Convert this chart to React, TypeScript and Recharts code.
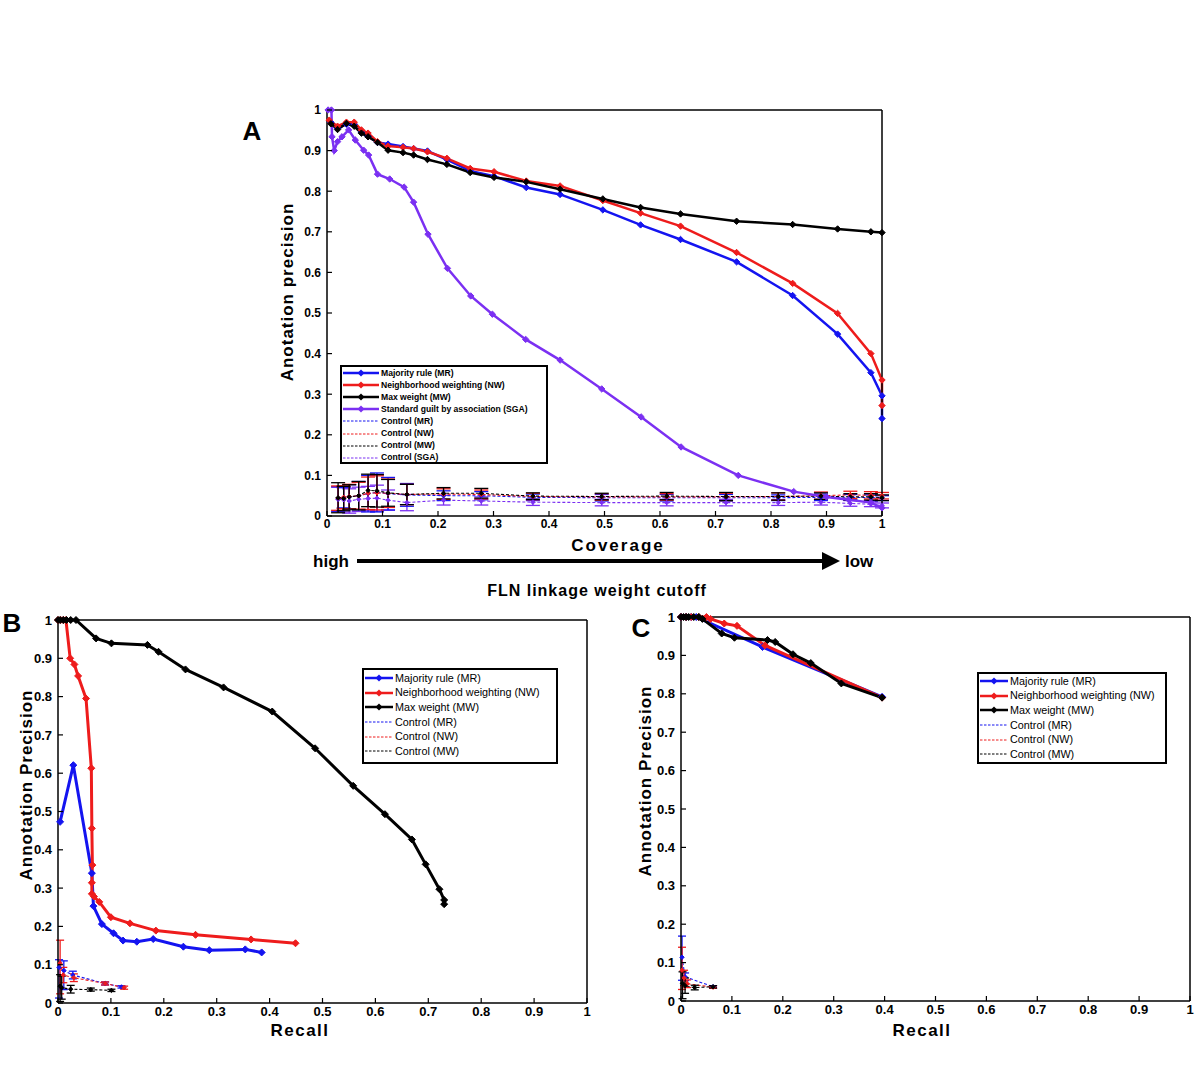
import React from 'react';
import { LineChart, Line, XAxis, YAxis, ErrorBar } from 'recharts';

// ---- panel A: precision vs coverage ----
const aMR: [number, number][] = [
  [0.007, 0.97], [0.019, 0.955], [0.035, 0.965], [0.049, 0.965], [0.062, 0.945], [0.074, 0.935],
  [0.091, 0.92], [0.11, 0.916], [0.137, 0.91], [0.156, 0.905], [0.181, 0.899], [0.216, 0.878],
  [0.258, 0.85], [0.301, 0.837], [0.359, 0.809], [0.42, 0.792], [0.497, 0.754], [0.565, 0.717],
  [0.637, 0.681], [0.738, 0.626], [0.839, 0.543], [0.92, 0.448], [0.98, 0.353], [1.0, 0.296], [1.0, 0.24],
];
const aNW: [number, number][] = [
  [0.004, 0.975], [0.019, 0.96], [0.035, 0.97], [0.049, 0.97], [0.062, 0.951], [0.074, 0.943],
  [0.091, 0.922], [0.11, 0.911], [0.137, 0.908], [0.156, 0.905], [0.181, 0.897], [0.216, 0.881],
  [0.258, 0.856], [0.301, 0.848], [0.359, 0.825], [0.42, 0.813], [0.497, 0.777], [0.565, 0.746],
  [0.637, 0.714], [0.738, 0.649], [0.839, 0.573], [0.92, 0.499], [0.98, 0.4], [1.0, 0.335], [1.0, 0.272],
];
const aMW: [number, number][] = [
  [0.007, 0.966], [0.019, 0.952], [0.035, 0.967], [0.049, 0.96], [0.062, 0.943], [0.074, 0.934],
  [0.091, 0.92], [0.11, 0.901], [0.137, 0.895], [0.156, 0.889], [0.181, 0.878], [0.216, 0.866],
  [0.258, 0.846], [0.301, 0.834], [0.359, 0.823], [0.42, 0.805], [0.497, 0.781], [0.565, 0.76],
  [0.637, 0.744], [0.738, 0.726], [0.839, 0.718], [0.92, 0.707], [0.98, 0.7], [1.0, 0.698],
];
const aSGA: [number, number][] = [
  [0.002, 1.0], [0.008, 1.0], [0.009, 0.934], [0.013, 0.9], [0.019, 0.922], [0.027, 0.934],
  [0.039, 0.951], [0.051, 0.926], [0.066, 0.901], [0.075, 0.889], [0.091, 0.842], [0.113, 0.83],
  [0.139, 0.81], [0.156, 0.773], [0.182, 0.694], [0.217, 0.61], [0.259, 0.542], [0.298, 0.497],
  [0.358, 0.435], [0.42, 0.384], [0.495, 0.313], [0.566, 0.244], [0.638, 0.17], [0.741, 0.1],
  [0.841, 0.06], [0.9, 0.047], [0.94, 0.04], [0.98, 0.033], [1.0, 0.02],
];

// controls share the same coverage steps
const aCtrlX = [0.02, 0.03, 0.04, 0.057, 0.074, 0.09, 0.11, 0.144, 0.21, 0.278, 0.371, 0.495, 0.612, 0.719, 0.813, 0.89, 0.943, 0.98, 1.0];
const aCtrlMR = [0.042, 0.045, 0.047, 0.05, 0.055, 0.058, 0.055, 0.052, 0.05, 0.05, 0.046, 0.045, 0.045, 0.045, 0.045, 0.046, 0.046, 0.045, 0.044];
const aCtrlMRErr = [0.03, 0.025, 0.03, 0.035, 0.045, 0.048, 0.04, 0.028, 0.012, 0.01, 0.008, 0.008, 0.008, 0.008, 0.007, 0.008, 0.007, 0.007, 0.006];
const aCtrlNW = [0.044, 0.046, 0.048, 0.05, 0.056, 0.057, 0.056, 0.053, 0.054, 0.053, 0.048, 0.047, 0.047, 0.047, 0.048, 0.05, 0.052, 0.051, 0.05];
const aCtrlNWErr = [0.03, 0.028, 0.03, 0.033, 0.04, 0.042, 0.035, 0.025, 0.013, 0.011, 0.008, 0.008, 0.008, 0.009, 0.009, 0.009, 0.009, 0.009, 0.008];
const aCtrlMW = [0.045, 0.043, 0.047, 0.05, 0.063, 0.062, 0.057, 0.053, 0.056, 0.056, 0.049, 0.048, 0.049, 0.048, 0.048, 0.049, 0.047, 0.047, 0.045];
const aCtrlMWErr = [0.037, 0.03, 0.03, 0.035, 0.04, 0.04, 0.033, 0.025, 0.014, 0.012, 0.008, 0.008, 0.009, 0.01, 0.009, 0.008, 0.008, 0.008, 0.007];
const aCtrlSGA = [0.041, 0.04, 0.037, 0.041, 0.043, 0.044, 0.039, 0.033, 0.039, 0.037, 0.034, 0.033, 0.033, 0.033, 0.033, 0.034, 0.031, 0.029, 0.026];
const aCtrlSGAErr = [0.03, 0.03, 0.03, 0.03, 0.03, 0.032, 0.025, 0.02, 0.012, 0.01, 0.008, 0.008, 0.008, 0.008, 0.007, 0.007, 0.007, 0.006, 0.006];

// ---- panel B: precision vs recall ----
const bMR: [number, number][] = [
  [0.004, 0.473], [0.029, 0.621], [0.064, 0.339], [0.067, 0.253], [0.083, 0.206], [0.105, 0.182],
  [0.123, 0.163], [0.149, 0.16], [0.18, 0.167], [0.237, 0.147], [0.286, 0.138], [0.354, 0.14], [0.385, 0.132],
];
const bNW: [number, number][] = [
  [0, 1], [0.005, 1], [0.01, 1], [0.015, 1], [0.023, 0.9], [0.031, 0.884], [0.038, 0.854], [0.053, 0.795],
  [0.063, 0.613], [0.064, 0.456], [0.065, 0.36], [0.064, 0.314], [0.064, 0.285], [0.068, 0.278],
  [0.078, 0.264], [0.1, 0.224], [0.136, 0.208], [0.185, 0.189], [0.26, 0.178], [0.365, 0.166], [0.449, 0.156],
];
const bMW: [number, number][] = [
  [0, 1], [0.004, 1], [0.01, 1], [0.016, 1], [0.024, 1], [0.034, 1], [0.072, 0.952], [0.101, 0.939],
  [0.169, 0.935], [0.19, 0.917], [0.241, 0.871], [0.313, 0.824], [0.405, 0.761], [0.486, 0.665],
  [0.558, 0.567], [0.618, 0.493], [0.669, 0.427], [0.695, 0.362], [0.721, 0.297], [0.73, 0.269], [0.73, 0.258],
];
const bCtrlMR: [number, number, number[]][] = [
  [0.002, 0.093, [0.08, 0.02]], [0.011, 0.085, [0.05, 0.025]], [0.028, 0.073, [0.01, 0.01]], [0.089, 0.051, [0.004, 0.004]], [0.12, 0.042, [0.003, 0.003]],
];
const bCtrlNW: [number, number, number[]][] = [
  [0.004, 0.104, [0.08, 0.06]], [0.01, 0.073, [0.02, 0.02]], [0.03, 0.066, [0.01, 0.01]], [0.089, 0.051, [0.004, 0.004]], [0.125, 0.04, [0.004, 0.004]],
];
const bCtrlMW: [number, number, number[]][] = [
  [0.004, 0.044, [0.04, 0.03]], [0.007, 0.04, [0.03, 0.03]], [0.024, 0.036, [0.01, 0.01]], [0.062, 0.035, [0.004, 0.004]], [0.101, 0.033, [0.003, 0.003]],
];

// ---- panel C: precision vs recall ----
const cMR: [number, number][] = [[0, 1], [0.01, 1], [0.02, 1], [0.03, 1], [0.16, 0.922], [0.395, 0.792]];
const cNW: [number, number][] = [
  [0, 1], [0.01, 1], [0.02, 1], [0.035, 1], [0.05, 1.0], [0.058, 0.995], [0.085, 0.983], [0.11, 0.977], [0.165, 0.926], [0.395, 0.79],
];
const cMW: [number, number][] = [
  [0, 1], [0.005, 1], [0.01, 1], [0.015, 1], [0.025, 1], [0.035, 1], [0.042, 0.995], [0.08, 0.957], [0.105, 0.946],
  [0.17, 0.94], [0.185, 0.935], [0.22, 0.903], [0.255, 0.88], [0.315, 0.827], [0.395, 0.79],
];
const cCtrlMR: [number, number, number[]][] = [[0.002, 0.114, [0.06, 0.055]], [0.008, 0.063, [0.01, 0.01]], [0.063, 0.037, [0.003, 0.003]]];
const cCtrlNW: [number, number, number[]][] = [[0.002, 0.08, [0.05, 0.06]], [0.006, 0.06, [0.02, 0.02]], [0.012, 0.045, [0.01, 0.01]], [0.063, 0.036, [0.003, 0.003]]];
const cCtrlMW: [number, number, number[]][] = [[0.003, 0.046, [0.04, 0.03]], [0.008, 0.04, [0.02, 0.02]], [0.027, 0.035, [0.006, 0.006]], [0.063, 0.037, [0.003, 0.003]]];

const ticks = [0, 0.1, 0.2, 0.3, 0.4, 0.5, 0.6, 0.7, 0.8, 0.9, 1];

const legendA = [
  { name: 'Majority rule (MR)', color: '#1414f0', dash: false },
  { name: 'Neighborhood weighting (NW)', color: '#ee1c1c', dash: false },
  { name: 'Max weight (MW)', color: '#000000', dash: false },
  { name: 'Standard guilt by association (SGA)', color: '#7b30f2', dash: false },
  { name: 'Control (MR)', color: '#1414f0', dash: true },
  { name: 'Control (NW)', color: '#ee1c1c', dash: true },
  { name: 'Control (MW)', color: '#000000', dash: true },
  { name: 'Control (SGA)', color: '#7b30f2', dash: true },
];
const legendBC = legendA.filter(l => !l.name.includes('SGA'));

const BLUE = '#1414f0';
const RED = '#ee1c1c';
const BLACK = '#000000';
const PURPLE = '#7b30f2';

const pts = (arr: [number, number][]) => arr.map(([x, y]) => ({ x, y }));
const ctrlPts = (ys: number[], errs: number[]) => aCtrlX.map((x, i) => ({ x, y: ys[i], e: errs[i] }));
const ctrlPts2 = (arr: [number, number, number[]][]) => arr.map(([x, y, e]) => ({ x, y, e }));

const diamond = (color: string, r: number) => (p: any) => {
  const { cx, cy, index } = p;
  if (cx == null || cy == null) return <g key={`d${index}`} />;
  return (
    <path key={`d${index}`} d={`M${cx},${cy - r}L${cx + r},${cy}L${cx},${cy + r}L${cx - r},${cy}Z`} fill={color} stroke={color} strokeWidth={1} />
  );
};

const fmt = (v: number) => String(v);

const bottomTick = (fs: number) => (p: any) => (
  <g>
    <line x1={p.x} y1={p.y} x2={p.x} y2={p.y - 5} stroke="#000" strokeWidth={1.2} />
    <text x={p.x} y={p.y + fs - 0.5} textAnchor="middle" fontSize={fs} fontWeight="bold" fill="#000">{fmt(p.payload.value)}</text>
  </g>
);
const leftTick = (fs: number) => (p: any) => (
  <g>
    <line x1={p.x} y1={p.y} x2={p.x + 5} y2={p.y} stroke="#000" strokeWidth={1.2} />
    <text x={p.x - 6} y={p.y + fs * 0.36} textAnchor="end" fontSize={fs} fontWeight="bold" fill="#000">{fmt(p.payload.value)}</text>
  </g>
);
const topTick = (p: any) => <line x1={p.x} y1={p.y} x2={p.x} y2={p.y + 5} stroke="#000" strokeWidth={1.2} />;
const rightTick = (p: any) => <line x1={p.x} y1={p.y} x2={p.x - 5} y2={p.y} stroke="#000" strokeWidth={1.2} />;

const axisLine = { stroke: '#000', strokeWidth: 1.5 };

function Frame(fs: number) {
  return [
    <XAxis key="xb" type="number" dataKey="x" domain={[0, 1]} ticks={ticks} interval={0} height={24} tickSize={0} tickMargin={0} tickLine={false} axisLine={axisLine} tick={bottomTick(fs)} />,
    <YAxis key="yl" type="number" dataKey="y" domain={[0, 1]} ticks={ticks} interval={0} width={50} tickSize={0} tickMargin={0} tickLine={false} axisLine={axisLine} tick={leftTick(fs)} />,
    <XAxis key="xt" xAxisId="top" orientation="top" type="number" domain={[0, 1]} ticks={ticks} interval={0} height={1} tickSize={0} tickMargin={0} tickLine={false} axisLine={axisLine} tick={topTick} />,
    <YAxis key="yr" yAxisId="right" orientation="right" type="number" domain={[0, 1]} ticks={ticks} interval={0} width={1} tickSize={0} tickMargin={0} tickLine={false} axisLine={axisLine} tick={rightTick} />,
  ];
}

function mainLine(key: string, data: any[], color: string, w: number, r: number) {
  return (
    <Line key={key} data={data} dataKey="y" type="linear" stroke={color} strokeWidth={w} dot={diamond(color, r)} activeDot={false} isAnimationActive={false} />
  );
}

function ctrlLine(key: string, data: any[], color: string, capW: number) {
  return (
    <Line key={key} data={data} dataKey="y" type="linear" stroke={color} strokeWidth={1.1} strokeDasharray="3 2" dot={diamond(color, 2.2)} activeDot={false} isAnimationActive={false}>
      <ErrorBar dataKey="e" direction="y" width={capW} stroke={color} strokeWidth={1.3} />
    </Line>
  );
}

function LegendBox({ left, top, width, height, items, rowH, font, sample, bold, padTop }: any) {
  return (
    <div style={{ position: 'absolute', left, top, width, height, border: '2px solid #000', background: '#fff', boxSizing: 'border-box', paddingTop: padTop, fontFamily: '"Liberation Sans", Arial, sans-serif' }}>
      {items.map((it: any) => (
        <div key={it.name} style={{ display: 'flex', alignItems: 'center', height: rowH, fontSize: font, fontWeight: bold ? 'bold' : 'normal', whiteSpace: 'nowrap', lineHeight: 1 }}>
          <svg width={sample} height={10} style={{ flex: 'none' }}>
            <line x1={1} y1={5} x2={sample - 1} y2={5} stroke={it.color} strokeWidth={it.dash ? 1 : 2.5} strokeDasharray={it.dash ? '2.5 1.5' : undefined} />
            {!it.dash && <path d={`M${sample / 2},1.5L${sample / 2 + 3.5},5L${sample / 2},8.5L${sample / 2 - 3.5},5Z`} fill={it.color} />}
          </svg>
          <span style={{ marginLeft: 1 }}>{it.name}</span>
        </div>
      ))}
    </div>
  );
}

export default function App() {
  const font = '"Liberation Sans", Arial, sans-serif';
  return (
    <div style={{ position: 'absolute', left: 0, top: 0, width: 1200, height: 1080, background: '#fff', fontFamily: font, overflow: 'hidden' }}>
      {/* Panel A */}
      <div style={{ position: 'absolute', left: 257, top: 100 }}>
        <LineChart width={640} height={450} margin={{ top: 9, right: 14, bottom: 10, left: 20 }}>
          {Frame(12)}
          {ctrlLine('cs', ctrlPts(aCtrlSGA, aCtrlSGAErr), PURPLE, 7)}
          {ctrlLine('cm', ctrlPts(aCtrlMR, aCtrlMRErr), BLUE, 7)}
          {ctrlLine('cn', ctrlPts(aCtrlNW, aCtrlNWErr), RED, 7)}
          {ctrlLine('cw', ctrlPts(aCtrlMW, aCtrlMWErr), BLACK, 7)}
          {mainLine('sga', pts(aSGA), PURPLE, 2.5, 3.2)}
          {mainLine('mr', pts(aMR), BLUE, 2.5, 3.2)}
          {mainLine('nw', pts(aNW), RED, 2.5, 3.2)}
          {mainLine('mw', pts(aMW), BLACK, 2.5, 3.2)}
        </LineChart>
      </div>

      {/* Panel B */}
      <div style={{ position: 'absolute', left: 0, top: 605 }}>
        <LineChart width={600} height={430} margin={{ top: 14, right: 12, bottom: 8, left: 8 }}>
          {Frame(13)}
          {ctrlLine('bcm', ctrlPts2(bCtrlMR), BLUE, 4)}
          {ctrlLine('bcn', ctrlPts2(bCtrlNW), RED, 4)}
          {ctrlLine('bcw', ctrlPts2(bCtrlMW), BLACK, 4)}
          {mainLine('bmr', pts(bMR), BLUE, 3, 3.5)}
          {mainLine('bnw', pts(bNW), RED, 3, 3.5)}
          {mainLine('bmw', pts(bMW), BLACK, 3, 3.5)}
        </LineChart>
      </div>

      {/* Panel C */}
      <div style={{ position: 'absolute', left: 620, top: 600 }}>
        <LineChart width={580} height={435} margin={{ top: 16, right: 9, bottom: 10, left: 11 }}>
          {Frame(13)}
          {ctrlLine('ccm', ctrlPts2(cCtrlMR), BLUE, 4)}
          {ctrlLine('ccn', ctrlPts2(cCtrlNW), RED, 4)}
          {ctrlLine('ccw', ctrlPts2(cCtrlMW), BLACK, 4)}
          {mainLine('cmr', pts(cMR), BLUE, 3, 3.5)}
          {mainLine('cnw', pts(cNW), RED, 3, 3.5)}
          {mainLine('cmw', pts(cMW), BLACK, 3, 3.5)}
        </LineChart>
      </div>

      <LegendBox left={340} top={365} width={208} height={99} items={legendA} rowH={12.1} font={8.6} sample={38} bold padTop={0} />
      <LegendBox left={362} top={668} width={196} height={96} items={legendBC} rowH={14.6} font={10.8} sample={30} padTop={1} />
      <LegendBox left={977} top={672} width={190} height={92} items={legendBC} rowH={14.6} font={10.8} sample={30} padTop={0} />

      <svg width={1200} height={1080} style={{ position: 'absolute', left: 0, top: 0, pointerEvents: 'none' }} fontFamily={font} fontWeight="bold">
        <text x={252} y={140} fontSize={26} textAnchor="middle">A</text>
        <text x={12} y={632} fontSize={26} textAnchor="middle">B</text>
        <text x={641} y={637} fontSize={26} textAnchor="middle">C</text>

        <text transform="translate(293,292) rotate(-90)" fontSize={17} textAnchor="middle" letterSpacing={1}>Anotation precision</text>
        <text x={618} y={551} fontSize={17} textAnchor="middle" letterSpacing={2}>Coverage</text>
        <text x={349} y={567} fontSize={17} textAnchor="end">high</text>
        <line x1={357} y1={561} x2={824} y2={561} stroke="#000" strokeWidth={4} />
        <polygon points="822,552 840,561 822,570" fill="#000" />
        <text x={845} y={567} fontSize={17} textAnchor="start">low</text>
        <text x={597} y={596} fontSize={16} textAnchor="middle" letterSpacing={1}>FLN linkage weight cutoff</text>

        <text transform="translate(32,785) rotate(-90)" fontSize={17} textAnchor="middle" letterSpacing={1}>Annotation Precision</text>
        <text x={300} y={1036} fontSize={17} textAnchor="middle" letterSpacing={1.5}>Recall</text>

        <text transform="translate(651,781) rotate(-90)" fontSize={17} textAnchor="middle" letterSpacing={1}>Annotation Precision</text>
        <text x={922} y={1036} fontSize={17} textAnchor="middle" letterSpacing={1.5}>Recall</text>
      </svg>
    </div>
  );
}
